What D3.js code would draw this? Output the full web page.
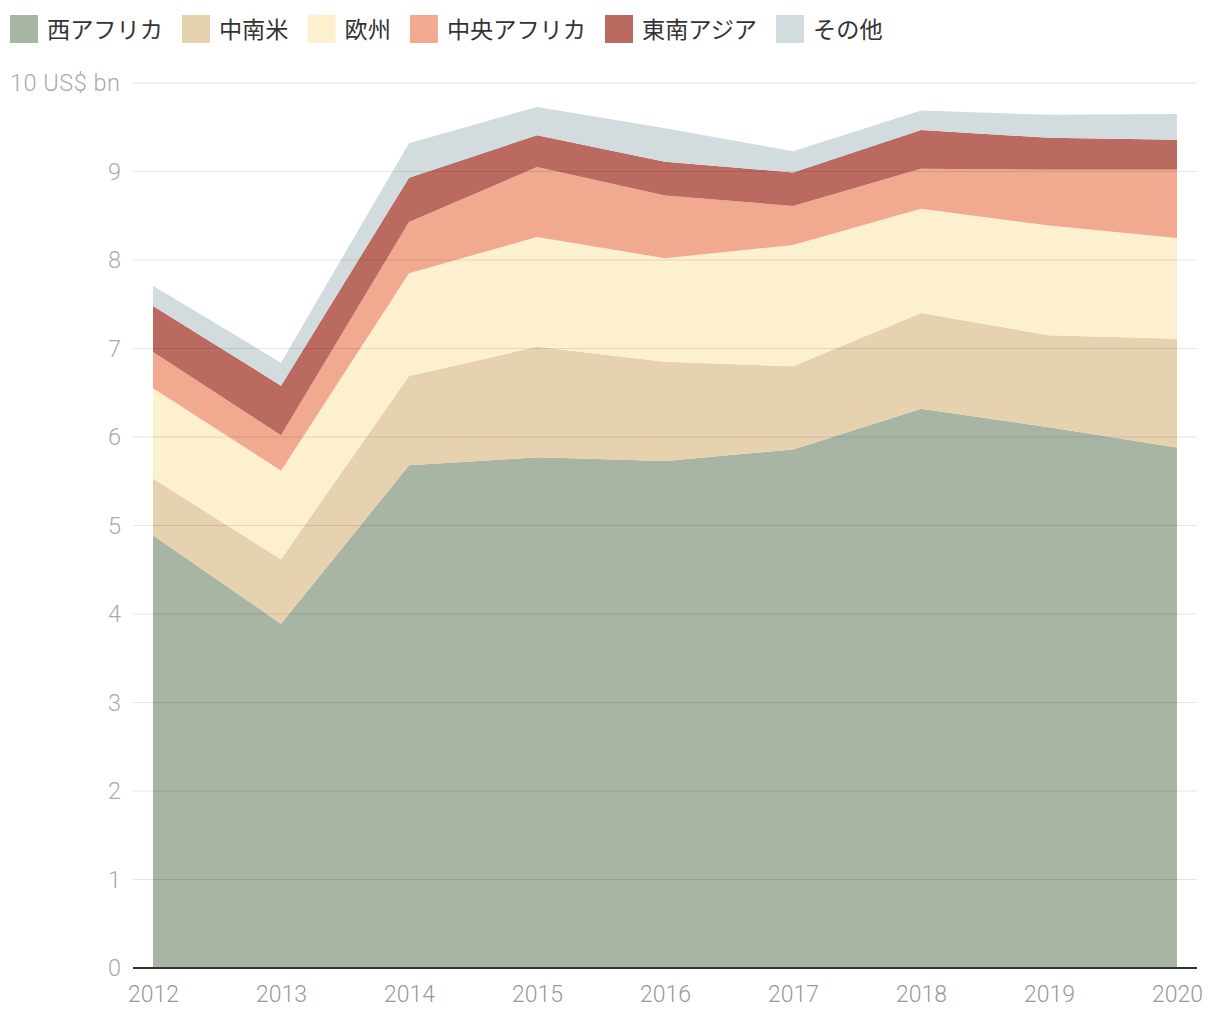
<!DOCTYPE html>
<html><head><meta charset="utf-8">
<script src="https://cdn.jsdelivr.net/npm/d3@7"></script>
<style>
body{margin:0;background:#fff;}
svg{display:block;}
</style></head>
<body>
<svg id="chart" width="1220" height="1020"></svg>
<script>
const years = [2012, 2013, 2014, 2015, 2016, 2017, 2018, 2019, 2020];
const seriesNames = ["西アフリカ", "中南米", "欧州", "中央アフリカ", "東南アジア", "その他"];
const westAfrica   = [4.89, 3.89, 5.68, 5.77, 5.73, 5.86, 6.32, 6.11, 5.88];
const latinAmerica = [0.64, 0.73, 1.01, 1.25, 1.12, 0.94, 1.08, 1.04, 1.23];
const europe       = [1.02, 1.00, 1.16, 1.24, 1.17, 1.37, 1.18, 1.24, 1.14];
const centralAfrica= [0.41, 0.40, 0.58, 0.79, 0.71, 0.44, 0.45, 0.63, 0.77];
const seAsia       = [0.52, 0.56, 0.50, 0.36, 0.38, 0.38, 0.44, 0.36, 0.34];
const others       = [0.23, 0.26, 0.39, 0.32, 0.38, 0.24, 0.22, 0.26, 0.29];
const colors = ["#a9b5a4", "#e7d2af", "#fdf0cf", "#f1a990", "#bb6a5f", "#d2dcdf"];
const yTicks = [0, 1, 2, 3, 4, 5, 6, 7, 8, 9, 10];
const yUnit = "US$ bn";

const allSeries = [westAfrica, latinAmerica, europe, centralAfrica, seAsia, others];
const table = years.map((y, i) => {
  const row = {year: y};
  seriesNames.forEach((n, k) => row[n] = allSeries[k][i]);
  return row;
});

const svg = d3.select("#chart");
const font = "'Noto Sans CJK JP', 'Noto Sans', sans-serif";
const numFont = "Roboto, 'Noto Sans', sans-serif";
const x = d3.scaleLinear().domain([2012, 2020]).range([153, 1177]);
const y = d3.scaleLinear().domain([0, 10]).range([968, 83]);

// legend
let lx = 10;
const legend = svg.append("g");
seriesNames.forEach((n, k) => {
  const g = legend.append("g").attr("transform", `translate(${lx},0)`);
  g.append("rect").attr("x", 0).attr("y", 15).attr("width", 28).attr("height", 28).attr("fill", colors[k]);
  const t = g.append("text").attr("x", 37).attr("y", 37.5).attr("font-family", font)
    .attr("font-size", 23.2).attr("fill", "#333").text(n);
  const w = t.node().getComputedTextLength();
  lx += 37 + w + 19;
});

const stack = d3.stack().keys(seriesNames)(table);
const area = d3.area().x(d => x(d.data.year)).y0(d => y(d[0])).y1(d => y(d[1]));

svg.append("g").selectAll("path").data(stack).join("path")
  .attr("d", area).attr("fill", (d, i) => colors[i]);

// gridlines over areas, faint
svg.append("g").selectAll("line").data(yTicks.filter(t => t > 0)).join("line")
  .attr("x1", 133).attr("x2", 1197)
  .attr("y1", d => y(d)).attr("y2", d => y(d))
  .attr("stroke", "#000").attr("stroke-opacity", 0.1).attr("stroke-width", 1.2);

// y axis labels
const yAxis = d3.axisLeft(y).tickValues(yTicks).tickSize(0).tickPadding(0)
  .tickFormat(d => d === 10 ? `10 ${yUnit}` : d);
const ya = svg.append("g").attr("transform", "translate(121,0)").call(yAxis);
ya.select(".domain").remove();
ya.selectAll("text").attr("font-family", numFont).attr("font-weight", 300)
  .attr("font-size", 23.5).attr("fill", "#aaa");
ya.selectAll(".tick").filter(d => d === 10).select("text")
  .attr("text-anchor", "start").attr("x", -111).attr("textLength", 110);

// x axis
const xAxis = d3.axisBottom(x).tickValues(years).tickFormat(d3.format("d")).tickSize(0).tickPadding(18);
const xa = svg.append("g").attr("transform", "translate(0,968)").call(xAxis);
xa.select(".domain").remove();
xa.selectAll("text").attr("font-family", numFont).attr("font-weight", 300)
  .attr("font-size", 23).attr("fill", "#999");
svg.append("line").attr("x1", 133).attr("x2", 1197).attr("y1", 968).attr("y2", 968)
  .attr("stroke", "#333").attr("stroke-width", 2);
</script>
</body></html>
